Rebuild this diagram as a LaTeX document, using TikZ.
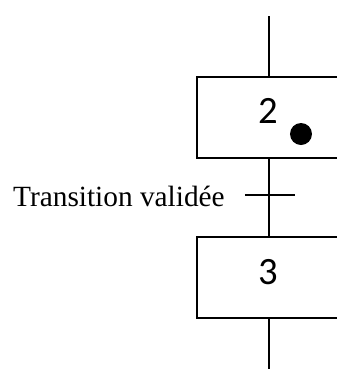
\documentclass[tikz,border=0pt]{standalone}
\usepackage{fontspec}
\setmainfont{Liberation Serif}
\newfontfamily\numfont{Carlito}
\usetikzlibrary{positioning,calc}
\tikzset{
  etape/.style={draw=black, line width=1.5pt, minimum width=108pt, minimum height=60.75pt,
                inner sep=0pt},
  num/.style={font=\numfont\fontsize{29}{32}\selectfont, inner sep=0pt},
  jeton/.style={circle, fill=black, minimum size=16.5pt, inner sep=0pt},
  lien/.style={line width=1.5pt, draw=black},
  lbl/.style={font=\fontsize{22}{25}\selectfont, inner sep=0pt},
}
\begin{document}
\begin{tikzpicture}[x=0.75pt, y=-0.75pt]
  \useasboundingbox (0,0) rectangle (337,369);
  \clip (0,0) rectangle (337,369);

  \node[etape] (e2) at (269,117.5) {};
  \node[etape] (e3) at (269,277) {};
  \node[num] (n2) at (268,111) {2};
  \node[num] (n3) at (268,272) {3};
  \node[jeton] (tok) at (301,134) {};

  \coordinate (haut) at (269,16);
  \coordinate (bas) at (269,369);
  \coordinate (t23) at (269,195);

  \draw[lien] (haut) -- (e2.north);
  \draw[lien] (e2.south) -- (e3.north);
  \draw[lien] (e3.south) -- (bas);

  % receptivite
  \draw[lien] ($(t23)+(-24,0)$) -- ($(t23)+(26,0)$);
  \node[lbl, anchor=base east] (txt) at (225,206) {Transition validée};
\end{tikzpicture}
\end{document}
